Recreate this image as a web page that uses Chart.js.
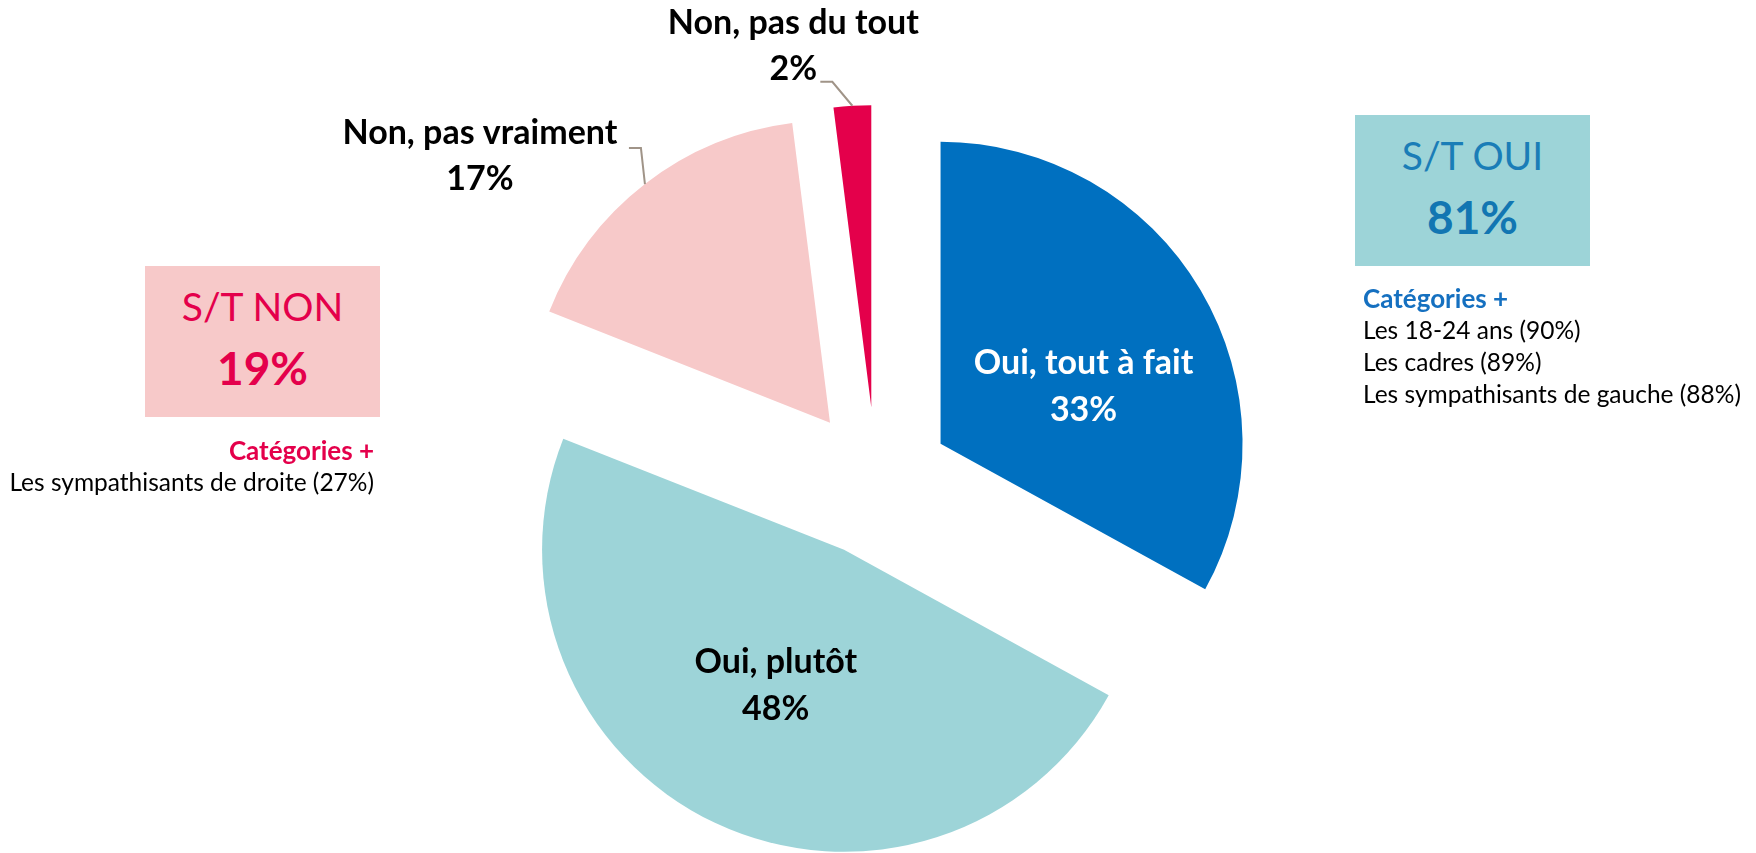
<!DOCTYPE html>
<html>
<head>
<meta charset="utf-8">
<script src="https://cdn.jsdelivr.net/npm/chart.js@4"></script>
<style>
  html, body { margin: 0; padding: 0; background: #fff; }
  #wrap { position: relative; width: 1756px; height: 853px; overflow: hidden; font-family: Lato, "Open Sans", sans-serif; }
  #myChart { position: absolute; left: 0; top: 0; }
  .box { position: absolute; width: 235px; height: 151px; text-align: center; }
  .box .t { position: absolute; left: 0; right: 0; top: 16px; font-size: 39px; line-height: 48px; }
  .box .v { position: absolute; left: 0; right: 0; top: 75px; font-size: 46px; line-height: 54px; font-weight: bold; }
  .cat { position: absolute; font-size: 24.5px; line-height: 32px; color: #000; white-space: nowrap; }
  .cat b { display: block; font-size: 26px; }
</style>
</head>
<body>
<div id="wrap">
  <canvas id="myChart" width="1756" height="853"></canvas>

  <div class="box" style="left:1355px; top:115px; background:#9dd4d8;">
    <div class="t" style="color:#1a7db7;">S/T OUI</div>
    <div class="v" style="color:#1276b2;">81%</div>
  </div>
  <div class="cat" style="left:1363px; top:282px;">
    <b style="color:#1570c0;">Catégories +</b>
    <div>Les 18-24 ans (90%)</div>
    <div>Les cadres (89%)</div>
    <div>Les sympathisants de gauche (88%)</div>
  </div>

  <div class="box" style="left:145px; top:266px; background:#f7c9c9;">
    <div class="t" style="color:#e4004b;">S/T NON</div>
    <div class="v" style="color:#e4004b;">19%</div>
  </div>
  <div class="cat" style="right:1382px; top:434px; text-align:right;">
    <b style="color:#e4004b;">Catégories +</b>
    <div>Les sympathisants de droite (27%)</div>
  </div>
</div>

<script>
const categories = ["Oui, tout à fait", "Oui, plutôt", "Non, pas vraiment", "Non, pas du tout"];
const shares = [33, 48, 17, 2];
const sliceColors = ["#0070c0", "#9dd4d8", "#f7c9c9", "#e4004b"];
const labelColors = ["#ffffff", "#000000", "#000000", "#000000"];

const RADIUS = 302;
const EXPLODE = 75;
const FONT = "bold 34px Lato, 'Open Sans', sans-serif";

// push every slice out along its own bisector, keep same radius
const explode = {
  id: "explode",
  afterDatasetUpdate(chart) {
    chart.getDatasetMeta(0).data.forEach(function (arc) {
      const mid = (arc.startAngle + arc.endAngle) / 2;
      arc.x += Math.cos(mid) * EXPLODE;
      arc.y += Math.sin(mid) * EXPLODE;
    });
  }
};

// inside labels for the big slices, leader lines for the small ones
const sliceLabels = {
  id: "sliceLabels",
  afterDatasetsDraw(chart) {
    const ctx = chart.ctx;
    ctx.save();
    ctx.font = FONT;
    ctx.textAlign = "center";
    ctx.textBaseline = "alphabetic";
    chart.getDatasetMeta(0).data.forEach(function (arc, i) {
      const mid = (arc.startAngle + arc.endAngle) / 2;
      const txt = categories[i];
      const pct = shares[i] + "%";
      ctx.fillStyle = labelColors[i];
      if (shares[i] > 25) {
        const r = arc.outerRadius * 0.5;
        const cx = arc.x + Math.cos(mid) * r + (i === 0 ? 13 : -4);
        const cy = arc.y + Math.sin(mid) * r + (i === 0 ? 14 : -6);
        ctx.fillText(txt, cx, cy - 7);
        ctx.fillText(pct, cx, cy + 40);
      } else {
        const ex = arc.x + Math.cos(mid) * arc.outerRadius;
        const ey = arc.y + Math.sin(mid) * arc.outerRadius;
        const big = i === 2;
        const kx = big ? ex - 4 : ex - 20;
        const ky = big ? ey - 36 : ey - 24;
        const sx = kx - 12;
        ctx.strokeStyle = "#a09488";
        ctx.lineWidth = 2;
        ctx.beginPath();
        ctx.moveTo(sx, ky);
        ctx.lineTo(kx, ky);
        ctx.lineTo(ex, ey);
        ctx.stroke();
        const lx = big ? ex - 165 : ex - 59;
        const ly = big ? ey - 40 : ey - 72;
        ctx.fillText(txt, lx, ly);
        ctx.fillText(pct, lx, ly + 46);
      }
    });
    ctx.restore();
  }
};

new Chart(document.getElementById("myChart"), {
  type: "pie",
  data: {
    labels: categories,
    datasets: [{
      data: shares,
      backgroundColor: sliceColors,
      borderWidth: 0
    }]
  },
  options: {
    responsive: false,
    animation: false,
    radius: RADIUS,
    layout: { padding: { top: 111, left: 0, right: 4, bottom: 0 } },
    plugins: {
      legend: { display: false },
      tooltip: { enabled: false }
    }
  },
  plugins: [explode, sliceLabels]
});
</script>
</body>
</html>
